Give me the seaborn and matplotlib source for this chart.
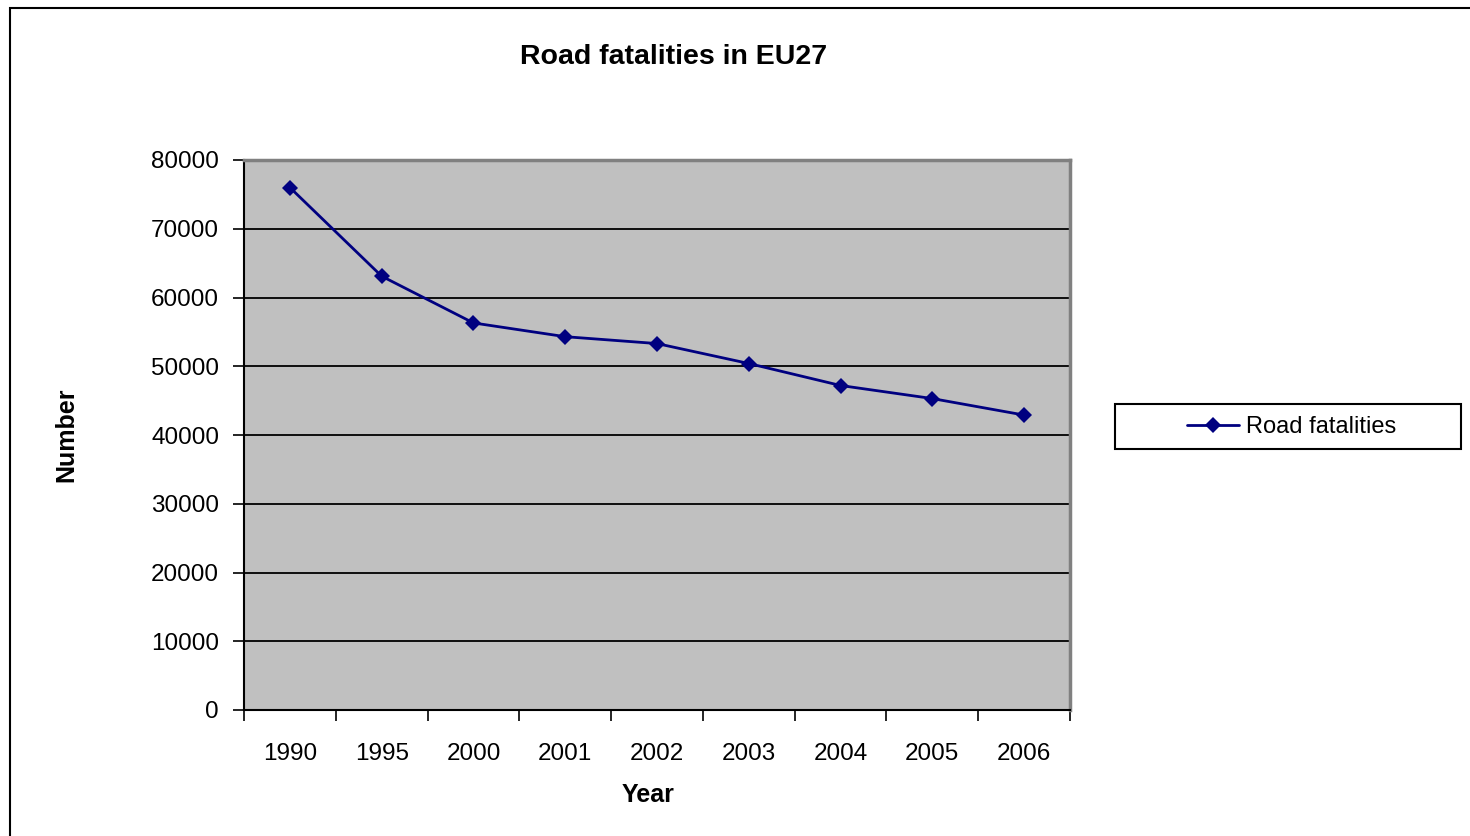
import pandas as pd
import seaborn as sns
import matplotlib.pyplot as plt
from matplotlib.patches import Rectangle

years = ["1990", "1995", "2000", "2001", "2002", "2003", "2004", "2005", "2006"]
fatalities = [76000, 63100, 56300, 54300, 53300, 50400, 47200, 45300, 42900]
y_ticks = [0, 10000, 20000, 30000, 40000, 50000, 60000, 70000, 80000]

df = pd.DataFrame({"Year": years, "Road fatalities": fatalities})
df["pos"] = range(len(years))

sns.set_style("white")
plt.rcParams["font.family"] = ["Liberation Sans", "DejaVu Sans"]
plt.rcParams["text.color"] = "black"
plt.rcParams["axes.labelcolor"] = "black"
plt.rcParams["xtick.color"] = "black"
plt.rcParams["ytick.color"] = "black"

W, H = 1470, 836
fig = plt.figure(figsize=(14.7, 8.36), dpi=100)
ax = fig.add_axes([244 / W, 1 - 710 / H, 826 / W, 550 / H])
ax.set_facecolor("#c0c0c0")

# chart area border (runs off the right / bottom edge like the original)
fig.patches.append(Rectangle((10 / W, -0.05), 1.1, 1 - 8 / H + 0.05,
                             transform=fig.transFigure, fill=False,
                             edgecolor="black", linewidth=1.5))

for v in y_ticks[1:-1]:
    ax.axhline(v, color="black", linewidth=1.3, zorder=1)

sns.lineplot(data=df, x="pos", y="Road fatalities", ax=ax, color="#000080",
             linewidth=2, marker="D", markersize=8, markeredgewidth=0,
             label="Road fatalities", zorder=3)

ax.set_xlim(-0.5, len(years) - 0.5)
ax.set_ylim(0, 80000)
ax.set_yticks(y_ticks)
ax.set_yticklabels([str(v) for v in y_ticks], fontsize=17.5)

# ticks on category boundaries, labels in the middle
ax.set_xticks([i - 0.5 for i in range(len(years) + 1)])
ax.set_xticklabels([])
ax.set_xticks(range(len(years)), minor=True)
ax.set_xticklabels(years, minor=True, fontsize=17.5)
ax.tick_params(axis="x", which="major", direction="out", length=8, width=1.2,
               color="black", bottom=True)
ax.tick_params(axis="x", which="minor", length=0, pad=24)
ax.tick_params(axis="y", direction="out", length=8, width=1.2, color="black",
               left=True, pad=10)

for side in ["top", "right"]:
    ax.spines[side].set_color("#808080")
    ax.spines[side].set_linewidth(2.5)
for side in ["left", "bottom"]:
    ax.spines[side].set_color("black")
    ax.spines[side].set_linewidth(1.5)

ax.set_xlabel("Year", fontsize=18, fontweight="bold")
ax.xaxis.set_label_coords((648 - 244) / 826, -(783 - 710) / 550)
ax.set_ylabel("Number", fontsize=18, fontweight="bold")
ax.yaxis.set_label_coords(-(244 - 78) / 826, 0.5)
fig.text(674 / W, 1 - 57 / H, "Road fatalities in EU27", ha="center",
         va="center", fontsize=20.5, fontweight="bold")

# legend box drawn by hand, legend itself without frame
fig.patches.append(Rectangle((1115 / W, 1 - 449 / H), 346 / W, 45 / H,
                             transform=fig.transFigure, fill=False,
                             edgecolor="black", linewidth=1.5))
leg = ax.legend(loc="center left", bbox_to_anchor=(1187 / W, 1 - 427 / H),
                bbox_transform=fig.transFigure, fontsize=17, frameon=False,
                borderpad=0, borderaxespad=0, handlelength=2.2,
                handletextpad=0.3)

plt.savefig("out.png", dpi=100)
